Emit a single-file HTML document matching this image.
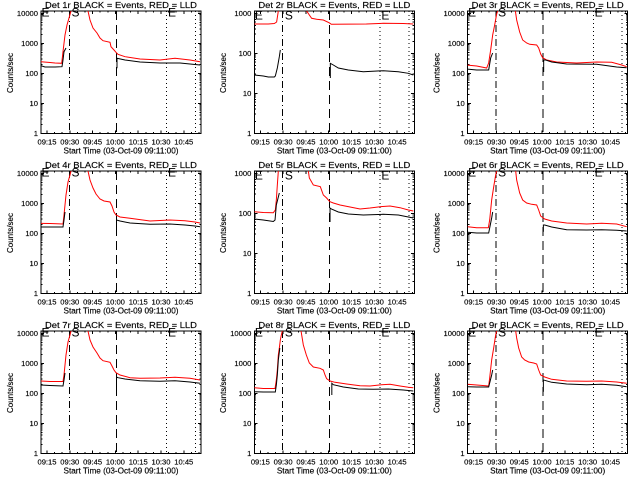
<!DOCTYPE html>
<html>
<head>
<meta charset="utf-8">
<style>
html,body{margin:0;padding:0;background:#fff;}
svg{display:block;}
text{font-family:"Liberation Sans",sans-serif;fill:#000;stroke:#000;stroke-width:0.15;}
.tl{font-size:8.5px;text-anchor:middle;}
.xl{font-size:7.6px;text-anchor:middle;}
.yl{font-size:7.6px;text-anchor:end;}
.st{font-size:8px;text-anchor:middle;}
.ct{font-size:8px;text-anchor:middle;}
.lt{font-size:12px;stroke-width:0;}
.ax{fill:none;stroke:#000;stroke-width:1;shape-rendering:crispEdges;}
.r{fill:none;stroke:#f00;stroke-width:1;}
.b{fill:none;stroke:#000;stroke-width:1;}
</style>
</head>
<body>
<svg width="640" height="480" viewBox="0 0 640 480" xmlns="http://www.w3.org/2000/svg">
<rect x="0" y="0" width="640" height="480" fill="#fff"/>
<defs>
<clipPath id="cp"><rect x="41" y="11" width="160" height="122.5"/></clipPath>
<g id="common">
<rect class="ax" x="41" y="11" width="160" height="122.3"/>
<path class="ax" d="M47 133.3v-3M69.8 133.3v-3M92.6 133.3v-3M115.4 133.3v-3M138.2 133.3v-3M161 133.3v-3M183.8 133.3v-3
M54.6 133.3v-1.5M62.2 133.3v-1.5M77.4 133.3v-1.5M85 133.3v-1.5M100.2 133.3v-1.5M107.8 133.3v-1.5M123 133.3v-1.5M130.6 133.3v-1.5M145.8 133.3v-1.5M153.4 133.3v-1.5M168.6 133.3v-1.5M176.2 133.3v-1.5M191.4 133.3v-1.5M199 133.3v-1.5
M47 11v3M69.8 11v3M92.6 11v3M115.4 11v3M138.2 11v3M161 11v3M183.8 11v3
M54.6 11v1.5M62.2 11v1.5M77.4 11v1.5M85 11v1.5M100.2 11v1.5M107.8 11v1.5M123 11v1.5M130.6 11v1.5M145.8 11v1.5M153.4 11v1.5M168.6 11v1.5M176.2 11v1.5M191.4 11v1.5M199 11v1.5"/>
<line class="ax" x1="69.3" y1="11" x2="69.3" y2="133.3" stroke-dasharray="7,3,1,3"/>
<line class="ax" x1="116.3" y1="11" x2="116.3" y2="133.3" stroke-dasharray="9,5"/>
<line class="ax" x1="166.7" y1="11" x2="166.7" y2="133.3" stroke-dasharray="1,3"/>
<line class="ax" x1="195.5" y1="11" x2="195.5" y2="133.3" stroke-dasharray="1,3"/>
</g>
<g id="f4">
<use href="#common"/>
<path class="ax" d="M41 13.3h3.2M41 43.3h3.2M41 73.3h3.2M41 103.3h3.2
M41 124.27h1.6M41 118.99h1.6M41 115.24h1.6M41 112.33h1.6M41 109.96h1.6M41 107.95h1.6M41 106.21h1.6M41 104.67h1.6
M41 94.27h1.6M41 88.99h1.6M41 85.24h1.6M41 82.33h1.6M41 79.96h1.6M41 77.95h1.6M41 76.21h1.6M41 74.67h1.6
M41 64.27h1.6M41 58.99h1.6M41 55.24h1.6M41 52.33h1.6M41 49.96h1.6M41 47.95h1.6M41 46.21h1.6M41 44.67h1.6
M41 34.27h1.6M41 28.99h1.6M41 25.24h1.6M41 22.33h1.6M41 19.96h1.6M41 17.95h1.6M41 16.21h1.6M41 14.67h1.6
M201 13.3h-3.2M201 43.3h-3.2M201 73.3h-3.2M201 103.3h-3.2
M201 124.27h-1.6M201 118.99h-1.6M201 115.24h-1.6M201 112.33h-1.6M201 109.96h-1.6M201 107.95h-1.6M201 106.21h-1.6M201 104.67h-1.6
M201 94.27h-1.6M201 88.99h-1.6M201 85.24h-1.6M201 82.33h-1.6M201 79.96h-1.6M201 77.95h-1.6M201 76.21h-1.6M201 74.67h-1.6
M201 64.27h-1.6M201 58.99h-1.6M201 55.24h-1.6M201 52.33h-1.6M201 49.96h-1.6M201 47.95h-1.6M201 46.21h-1.6M201 44.67h-1.6
M201 34.27h-1.6M201 28.99h-1.6M201 25.24h-1.6M201 22.33h-1.6M201 19.96h-1.6M201 17.95h-1.6M201 16.21h-1.6M201 14.67h-1.6"/>
</g>
<g id="f3">
<use href="#common"/>
<path class="ax" d="M41 13.3h3.2M41 53.3h3.2M41 93.3h3.2
M41 121.26h1.6M41 114.22h1.6M41 109.22h1.6M41 105.34h1.6M41 102.17h1.6M41 99.5h1.6M41 97.18h1.6M41 95.13h1.6
M41 81.26h1.6M41 74.22h1.6M41 69.22h1.6M41 65.34h1.6M41 62.17h1.6M41 59.5h1.6M41 57.18h1.6M41 55.13h1.6
M41 41.26h1.6M41 34.22h1.6M41 29.22h1.6M41 25.34h1.6M41 22.17h1.6M41 19.5h1.6M41 17.18h1.6M41 15.13h1.6
M201 13.3h-3.2M201 53.3h-3.2M201 93.3h-3.2
M201 121.26h-1.6M201 114.22h-1.6M201 109.22h-1.6M201 105.34h-1.6M201 102.17h-1.6M201 99.5h-1.6M201 97.18h-1.6M201 95.13h-1.6
M201 81.26h-1.6M201 74.22h-1.6M201 69.22h-1.6M201 65.34h-1.6M201 62.17h-1.6M201 59.5h-1.6M201 57.18h-1.6M201 55.13h-1.6
M201 41.26h-1.6M201 34.22h-1.6M201 29.22h-1.6M201 25.34h-1.6M201 22.17h-1.6M201 19.5h-1.6M201 17.18h-1.6M201 15.13h-1.6"/>
</g>
</defs>

<!-- Panel 1 -->
<g transform="translate(0,0)">
<use href="#f4"/>
<text class="tl" x="121" y="7.8" textLength="152" lengthAdjust="spacingAndGlyphs">Det 1r BLACK = Events, RED = LLD</text>
<text class="yl" x="38" y="16">10000</text><text class="yl" x="38" y="46">1000</text><text class="yl" x="38" y="76">100</text><text class="yl" x="38" y="106">10</text><text class="yl" x="38" y="136">1</text>
<text class="xl" x="47" y="144.5">09:15</text><text class="xl" x="69.8" y="144.5">09:30</text><text class="xl" x="92.6" y="144.5">09:45</text><text class="xl" x="115.4" y="144.5">10:00</text><text class="xl" x="138.2" y="144.5">10:15</text><text class="xl" x="161" y="144.5">10:30</text><text class="xl" x="183.8" y="144.5">10:45</text>
<text class="st" x="121" y="153.3" textLength="115" lengthAdjust="spacingAndGlyphs">Start Time (03-Oct-09 09:11:00)</text>
<text class="ct" transform="translate(12.8,73) rotate(-90)">Counts/sec</text>
<text class="lt" x="41.5" y="16.3">E</text><text class="lt" x="71.5" y="16.3">S</text><text class="lt" x="168" y="16.3">E</text>
<g clip-path="url(#cp)">
<polyline class="r" points="40,61.7 50,62.5 55,63 61.7,63.3 63,51.7 65,35 67,25 69,18 71,11 72,5"/>
<polyline class="r" points="87,5 88,11 90,20 93,28 97,33 100,38 103,40.7 110,42.3 111,46.7 114,50 116,52.3 118,54.3 125,56.7 140,59 160,60 175,58.3 190,60 200,61.7"/>
<polyline class="b" points="41,65.7 45,67 55,67 62,66.7 63,60 64,51.7 66,48"/>
<polyline class="b" points="117,68.3 117,58.3 125,60 140,62 160,63 180,63 190,64 200,65"/>
</g>
</g>

<!-- Panel 2 -->
<g transform="translate(213.33,0)">
<use href="#f3"/>
<text class="tl" x="121" y="7.8" textLength="152" lengthAdjust="spacingAndGlyphs">Det 2r BLACK = Events, RED = LLD</text>
<text class="yl" x="38" y="16">1000</text><text class="yl" x="38" y="56">100</text><text class="yl" x="38" y="96">10</text><text class="yl" x="38" y="136">1</text>
<text class="xl" x="47" y="144.5">09:15</text><text class="xl" x="69.8" y="144.5">09:30</text><text class="xl" x="92.6" y="144.5">09:45</text><text class="xl" x="115.4" y="144.5">10:00</text><text class="xl" x="138.2" y="144.5">10:15</text><text class="xl" x="161" y="144.5">10:30</text><text class="xl" x="183.8" y="144.5">10:45</text>
<text class="st" x="121" y="153.3" textLength="115" lengthAdjust="spacingAndGlyphs">Start Time (03-Oct-09 09:11:00)</text>
<text class="ct" transform="translate(12.8,73) rotate(-90)">Counts/sec</text>
<text class="lt" x="41.5" y="19.5">E</text><text class="lt" x="71.5" y="19.5">S</text><text class="lt" x="168" y="19.5">E</text>
<g clip-path="url(#cp)">
<polyline class="r" points="41,24 55,24 61,23.5 63.3,22 65,11 65.5,5"/>
<polyline class="r" points="93,5 93.3,11 96,15 98.3,18.3 103.3,19.3 110,20 115.7,22.7 118,24.3 153,24 170,23.3 190,23.5 200,24"/>
<polyline class="b" points="41,75 50,76 55,77 61,77 62,76 64,68 66,56.7 67,50"/>
<polyline class="b" points="117,78 117,63.3 120,65 125,68 135,70 150,71.7 170,70.7 185,71.7 195,73.3 200,75"/>
</g>
</g>

<!-- Panel 3 -->
<g transform="translate(426.67,0)">
<use href="#f4"/>
<text class="tl" x="121" y="7.8" textLength="152" lengthAdjust="spacingAndGlyphs">Det 3r BLACK = Events, RED = LLD</text>
<text class="yl" x="38" y="16">10000</text><text class="yl" x="38" y="46">1000</text><text class="yl" x="38" y="76">100</text><text class="yl" x="38" y="106">10</text><text class="yl" x="38" y="136">1</text>
<text class="xl" x="47" y="144.5">09:15</text><text class="xl" x="69.8" y="144.5">09:30</text><text class="xl" x="92.6" y="144.5">09:45</text><text class="xl" x="115.4" y="144.5">10:00</text><text class="xl" x="138.2" y="144.5">10:15</text><text class="xl" x="161" y="144.5">10:30</text><text class="xl" x="183.8" y="144.5">10:45</text>
<text class="st" x="121" y="153.3" textLength="115" lengthAdjust="spacingAndGlyphs">Start Time (03-Oct-09 09:11:00)</text>
<text class="ct" transform="translate(12.8,73) rotate(-90)">Counts/sec</text>
<text class="lt" x="41.5" y="16.3">E</text><text class="lt" x="71.5" y="16.3">S</text><text class="lt" x="168" y="16.3">E</text>
<g clip-path="url(#cp)">
<polyline class="r" points="40,65 50,66 60,68 62,63 64,50 66,35 68,25 70,14 71,11 71.5,5"/>
<polyline class="r" points="88,5 88.7,11 90,20 93,32 96,40 100,43 103,44.3 110,45 112,48 114,54 116,57.7 120,60 130,62 150,63 170,62 185,62.3 195,65 200,66.7"/>
<polyline class="b" points="40,69 50,70 62,70 64,58 66,53"/>
<polyline class="b" points="117,72 117,60 119,60 125,62 140,64 170,64.3 190,67 200,67.7"/>
</g>
</g>

<!-- Panel 4 -->
<g transform="translate(0,160)">
<use href="#f4"/>
<text class="tl" x="121" y="7.8" textLength="152" lengthAdjust="spacingAndGlyphs">Det 4r BLACK = Events, RED = LLD</text>
<text class="yl" x="38" y="16">10000</text><text class="yl" x="38" y="46">1000</text><text class="yl" x="38" y="76">100</text><text class="yl" x="38" y="106">10</text><text class="yl" x="38" y="136">1</text>
<text class="xl" x="47" y="144.5">09:15</text><text class="xl" x="69.8" y="144.5">09:30</text><text class="xl" x="92.6" y="144.5">09:45</text><text class="xl" x="115.4" y="144.5">10:00</text><text class="xl" x="138.2" y="144.5">10:15</text><text class="xl" x="161" y="144.5">10:30</text><text class="xl" x="183.8" y="144.5">10:45</text>
<text class="st" x="121" y="153.3" textLength="115" lengthAdjust="spacingAndGlyphs">Start Time (03-Oct-09 09:11:00)</text>
<text class="ct" transform="translate(12.8,73) rotate(-90)">Counts/sec</text>
<text class="lt" x="41.5" y="16.3">E</text><text class="lt" x="71.5" y="16.3">S</text><text class="lt" x="168" y="16.3">E</text>
<g clip-path="url(#cp)">
<polyline class="r" points="40,63.3 50,63.5 63,64 64,55 66,35 68,22 70,15 71,11 71.5,5"/>
<polyline class="r" points="87.5,5 88,11 90,20 93,28 96,34 100,39 104,41 110,42 112,46 114,52 116,55 120,57 130,58.3 150,61 170,60 185,60.7 195,62 200,63"/>
<polyline class="b" points="40,67 50,67 63,67 64,60 65,52"/>
<polyline class="b" points="116.5,72 116.5,60 120,61 130,63 150,64.3 170,64 185,65 195,66 200,66.7"/>
</g>
</g>

<!-- Panel 5 -->
<g transform="translate(213.33,160)">
<use href="#f3"/>
<text class="tl" x="121" y="7.8" textLength="152" lengthAdjust="spacingAndGlyphs">Det 5r BLACK = Events, RED = LLD</text>
<text class="yl" x="38" y="16">1000</text><text class="yl" x="38" y="56">100</text><text class="yl" x="38" y="96">10</text><text class="yl" x="38" y="136">1</text>
<text class="xl" x="47" y="144.5">09:15</text><text class="xl" x="69.8" y="144.5">09:30</text><text class="xl" x="92.6" y="144.5">09:45</text><text class="xl" x="115.4" y="144.5">10:00</text><text class="xl" x="138.2" y="144.5">10:15</text><text class="xl" x="161" y="144.5">10:30</text><text class="xl" x="183.8" y="144.5">10:45</text>
<text class="st" x="121" y="153.3" textLength="115" lengthAdjust="spacingAndGlyphs">Start Time (03-Oct-09 09:11:00)</text>
<text class="ct" transform="translate(12.8,73) rotate(-90)">Counts/sec</text>
<text class="lt" x="41.5" y="19.5">E</text><text class="lt" x="71.5" y="19.5">S</text><text class="lt" x="168" y="19.5">E</text>
<g clip-path="url(#cp)">
<polyline class="r" points="41,51.7 50,52.5 60,52.7 62,50 63,40 64,25 65,11 65.3,5"/>
<polyline class="r" points="94.5,5 95,11 96,18 100,25 107,26.7 110,35 113.3,38 115,40 116.7,41.7 120,43 126.7,45 136.7,47 146.7,49 156.7,48 166.7,46.7 176.7,46 186.7,47.7 195,50 200,51"/>
<polyline class="b" points="41,59 50,60 60,61.5 61.7,60 63,45 66,33"/>
<polyline class="b" points="116.7,62 116.7,48 118,49 125,52 135,54 150,55 170,54.3 185,55 195,57 200,58"/>
</g>
</g>

<!-- Panel 6 -->
<g transform="translate(426.67,160)">
<use href="#f4"/>
<text class="tl" x="121" y="7.8" textLength="152" lengthAdjust="spacingAndGlyphs">Det 6r BLACK = Events, RED = LLD</text>
<text class="yl" x="38" y="16">10000</text><text class="yl" x="38" y="46">1000</text><text class="yl" x="38" y="76">100</text><text class="yl" x="38" y="106">10</text><text class="yl" x="38" y="136">1</text>
<text class="xl" x="47" y="144.5">09:15</text><text class="xl" x="69.8" y="144.5">09:30</text><text class="xl" x="92.6" y="144.5">09:45</text><text class="xl" x="115.4" y="144.5">10:00</text><text class="xl" x="138.2" y="144.5">10:15</text><text class="xl" x="161" y="144.5">10:30</text><text class="xl" x="183.8" y="144.5">10:45</text>
<text class="st" x="121" y="153.3" textLength="115" lengthAdjust="spacingAndGlyphs">Start Time (03-Oct-09 09:11:00)</text>
<text class="ct" transform="translate(12.8,73) rotate(-90)">Counts/sec</text>
<text class="lt" x="41.5" y="16.3">E</text><text class="lt" x="71.5" y="16.3">S</text><text class="lt" x="168" y="16.3">E</text>
<g clip-path="url(#cp)">
<polyline class="r" points="41,66.7 50,67.7 61.7,67.7 63,60 65,40 67,27 69,15 70,11 70.5,5"/>
<polyline class="r" points="88.5,5 89,11 90,20 93,33 96,40 100,43 105,44.3 110,45 112,50 114,56 118,59 125,61 140,63 160,64 175,63.3 190,64 200,66.7"/>
<polyline class="b" points="41,72.3 50,73 62,73 63,68 65,58 66,52"/>
<polyline class="b" points="116.7,71.7 116.7,65 118,65 125,67 140,69.7 160,70 175,69.7 190,70.3 200,71"/>
</g>
</g>

<!-- Panel 7 -->
<g transform="translate(0,320)">
<use href="#f4"/>
<text class="tl" x="121" y="7.8" textLength="152" lengthAdjust="spacingAndGlyphs">Det 7r BLACK = Events, RED = LLD</text>
<text class="yl" x="38" y="16">10000</text><text class="yl" x="38" y="46">1000</text><text class="yl" x="38" y="76">100</text><text class="yl" x="38" y="106">10</text><text class="yl" x="38" y="136">1</text>
<text class="xl" x="47" y="144.5">09:15</text><text class="xl" x="69.8" y="144.5">09:30</text><text class="xl" x="92.6" y="144.5">09:45</text><text class="xl" x="115.4" y="144.5">10:00</text><text class="xl" x="138.2" y="144.5">10:15</text><text class="xl" x="161" y="144.5">10:30</text><text class="xl" x="183.8" y="144.5">10:45</text>
<text class="st" x="121" y="153.3" textLength="115" lengthAdjust="spacingAndGlyphs">Start Time (03-Oct-09 09:11:00)</text>
<text class="ct" transform="translate(12.8,73) rotate(-90)">Counts/sec</text>
<text class="lt" x="41.5" y="16.3">E</text><text class="lt" x="71.5" y="16.3">S</text><text class="lt" x="168" y="16.3">E</text>
<g clip-path="url(#cp)">
<polyline class="r" points="40,61 50,61.5 63,61.5 64,55 66,35 68,22 70,15 71,11 71.5,5"/>
<polyline class="r" points="87.5,5 88,11 90,20 93,27 97,33 100,38 103,40.7 110,42.3 112,46 114,50 116,52.7 120,55 130,57.7 140,58.3 160,58 175,57.3 190,58.3 200,60"/>
<polyline class="b" points="40,65 50,65.5 63,66 64,60 65,53"/>
<polyline class="b" points="116.5,68 116.5,57 118,57.7 125,59 140,60.7 160,61.3 175,60.7 190,62 200,63.3"/>
</g>
</g>

<!-- Panel 8 -->
<g transform="translate(213.33,320)">
<use href="#f4"/>
<text class="tl" x="121" y="7.8" textLength="152" lengthAdjust="spacingAndGlyphs">Det 8r BLACK = Events, RED = LLD</text>
<text class="yl" x="38" y="16">10000</text><text class="yl" x="38" y="46">1000</text><text class="yl" x="38" y="76">100</text><text class="yl" x="38" y="106">10</text><text class="yl" x="38" y="136">1</text>
<text class="xl" x="47" y="144.5">09:15</text><text class="xl" x="69.8" y="144.5">09:30</text><text class="xl" x="92.6" y="144.5">09:45</text><text class="xl" x="115.4" y="144.5">10:00</text><text class="xl" x="138.2" y="144.5">10:15</text><text class="xl" x="161" y="144.5">10:30</text><text class="xl" x="183.8" y="144.5">10:45</text>
<text class="st" x="121" y="153.3" textLength="115" lengthAdjust="spacingAndGlyphs">Start Time (03-Oct-09 09:11:00)</text>
<text class="ct" transform="translate(12.8,73) rotate(-90)">Counts/sec</text>
<text class="lt" x="41.5" y="16.3">E</text><text class="lt" x="71.5" y="16.3">S</text><text class="lt" x="168" y="16.3">E</text>
<g clip-path="url(#cp)">
<polyline class="r" points="41,67.7 50,68.5 61.7,68.5 63,60 64,50 65,35 66,28 67,20 68,15 69,11 69.5,5"/>
<polyline class="r" points="87.3,5 87.7,11 90,25 93,35 96,43 100,47 106.7,48.3 110,50 111.7,55 113.3,58.7 116.7,61 121.7,62.3 133.3,64 146.7,65.7 156.7,66 168.3,64.7 176.7,64.3 186.7,66 195,67.3 200,67.7"/>
<polyline class="b" points="41,71.7 50,72 62,72 63,65 64,55 65,40 66.5,28"/>
<polyline class="b" points="118.5,75 118.5,63.3 120,64.7 130,67 145,69 160,69.3 175,69 190,70 200,71"/>
</g>
</g>

<!-- Panel 9 -->
<g transform="translate(426.67,320)">
<use href="#f4"/>
<text class="tl" x="121" y="7.8" textLength="152" lengthAdjust="spacingAndGlyphs">Det 9r BLACK = Events, RED = LLD</text>
<text class="yl" x="38" y="16">10000</text><text class="yl" x="38" y="46">1000</text><text class="yl" x="38" y="76">100</text><text class="yl" x="38" y="106">10</text><text class="yl" x="38" y="136">1</text>
<text class="xl" x="47" y="144.5">09:15</text><text class="xl" x="69.8" y="144.5">09:30</text><text class="xl" x="92.6" y="144.5">09:45</text><text class="xl" x="115.4" y="144.5">10:00</text><text class="xl" x="138.2" y="144.5">10:15</text><text class="xl" x="161" y="144.5">10:30</text><text class="xl" x="183.8" y="144.5">10:45</text>
<text class="st" x="121" y="153.3" textLength="115" lengthAdjust="spacingAndGlyphs">Start Time (03-Oct-09 09:11:00)</text>
<text class="ct" transform="translate(12.8,73) rotate(-90)">Counts/sec</text>
<text class="lt" x="41.5" y="16.3">E</text><text class="lt" x="71.5" y="16.3">S</text><text class="lt" x="168" y="16.3">E</text>
<g clip-path="url(#cp)">
<polyline class="r" points="41,64.3 50,65 62,66 63,58 65,40 67,28 69,15 70,11 70.5,5"/>
<polyline class="r" points="88.5,5 89,11 90,18 92,28 95,37 98,40 102,42 107,43 110,44 112,50 114,55 118,57 125,59.3 140,61 160,61.3 175,61 190,62 200,63.3"/>
<polyline class="b" points="41,66.7 50,67 62,67 63,63 65,55 66,50"/>
<polyline class="b" points="116.7,71.7 116.7,60 118,60.3 125,62.3 140,64 160,64.7 175,64.3 190,65.3 200,66.7"/>
</g>
</g>
</svg>
</body>
</html>
